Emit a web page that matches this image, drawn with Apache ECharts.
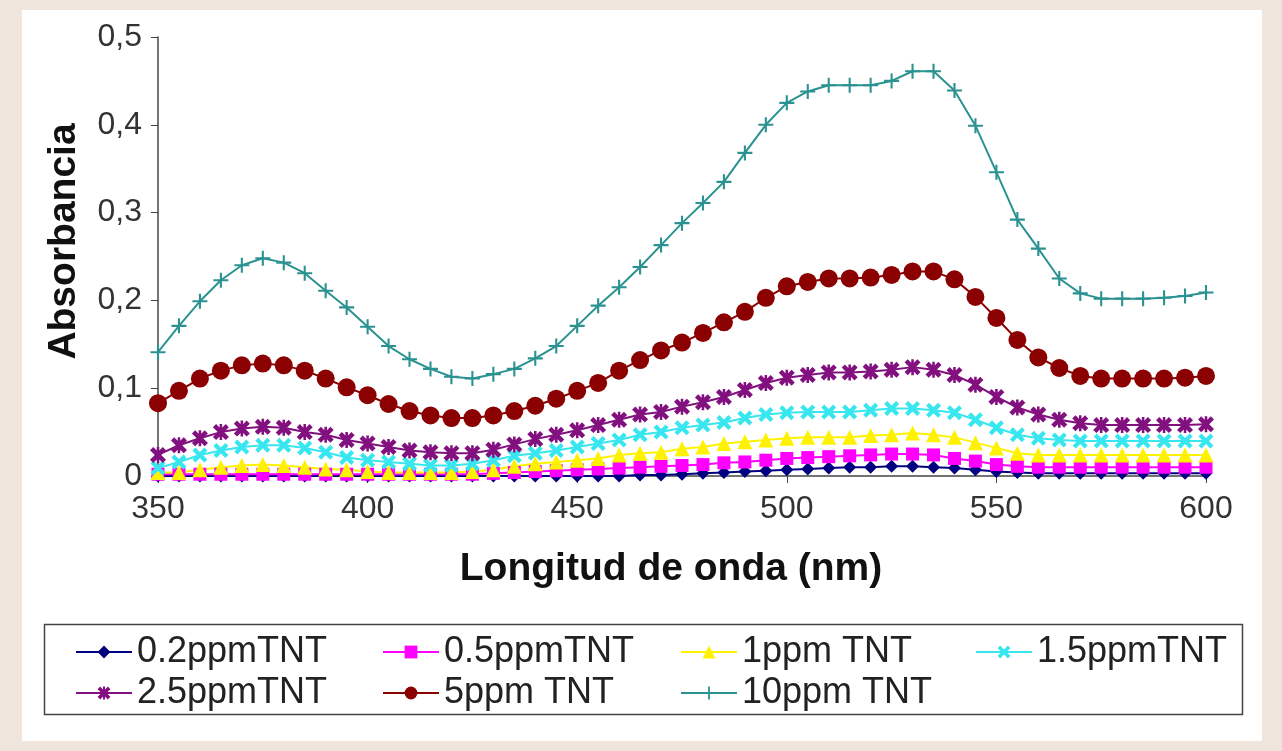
<!DOCTYPE html>
<html>
<head>
<meta charset="utf-8">
<script src="https://cdn.jsdelivr.net/npm/echarts@6/dist/echarts.min.js"></script>
<style>
  html, body { margin: 0; padding: 0; background: #efe5dd; }
  #chart { position: absolute; left: 22px; top: 10px; width: 1240px; height: 731px; background: #ffffff; }
</style>
</head>
<body>
<div id="chart"></div>
<script>
// longitud de onda (nm)
var wavelengths = [350, 355, 360, 365, 370, 375, 380, 385, 390, 395, 400,
  405, 410, 415, 420, 425, 430, 435, 440, 445, 450,
  455, 460, 465, 470, 475, 480, 485, 490, 495, 500,
  505, 510, 515, 520, 525, 530, 535, 540, 545, 550,
  555, 560, 565, 570, 575, 580, 585, 590, 595, 600];

var ppm02 = [0, 0, 0, 0, 0, 0, 0, 0, 0, 0, 0,
  0, 0, 0, 0, 0, 0, 0, 0, 0, 0,
  0, 0, 0.001, 0.001, 0.002, 0.003, 0.004, 0.005, 0.006, 0.007,
  0.008, 0.009, 0.010, 0.010, 0.011, 0.011, 0.010, 0.009, 0.007, 0.005,
  0.004, 0.003, 0.003, 0.003, 0.003, 0.003, 0.003, 0.003, 0.003, 0.003];

var ppm05 = [0.002, 0.002, 0.002, 0.002, 0.002, 0.002, 0.002, 0.002, 0.002, 0.002, 0.002,
  0.002, 0.002, 0.002, 0.002, 0.002, 0.003, 0.004, 0.005, 0.006, 0.007,
  0.008, 0.009, 0.010, 0.011, 0.012, 0.013, 0.015, 0.016, 0.018, 0.020,
  0.021, 0.022, 0.023, 0.024, 0.025, 0.025, 0.024, 0.020, 0.017, 0.013,
  0.011, 0.010, 0.010, 0.010, 0.010, 0.010, 0.010, 0.010, 0.010, 0.010];

var ppm1 = [0.004, 0.004, 0.007, 0.010, 0.012, 0.013, 0.012, 0.010, 0.008, 0.007, 0.005,
  0.004, 0.004, 0.004, 0.004, 0.005, 0.007, 0.011, 0.014, 0.016, 0.018,
  0.020, 0.024, 0.026, 0.027, 0.031, 0.033, 0.037, 0.039, 0.041, 0.043,
  0.044, 0.044, 0.044, 0.046, 0.047, 0.049, 0.047, 0.044, 0.038, 0.032,
  0.026, 0.024, 0.024, 0.024, 0.024, 0.024, 0.024, 0.024, 0.024, 0.024];

var ppm15 = [0.009, 0.016, 0.024, 0.029, 0.033, 0.035, 0.035, 0.032, 0.027, 0.021, 0.018,
  0.016, 0.014, 0.012, 0.012, 0.014, 0.018, 0.023, 0.026, 0.029, 0.033,
  0.037, 0.041, 0.047, 0.050, 0.055, 0.058, 0.061, 0.066, 0.070, 0.072,
  0.073, 0.073, 0.073, 0.075, 0.077, 0.077, 0.075, 0.072, 0.064, 0.055,
  0.047, 0.043, 0.041, 0.040, 0.040, 0.040, 0.040, 0.040, 0.040, 0.040];

var ppm25 = [0.024, 0.035, 0.043, 0.050, 0.054, 0.056, 0.055, 0.050, 0.047, 0.041, 0.037,
  0.033, 0.029, 0.027, 0.026, 0.026, 0.030, 0.036, 0.042, 0.047, 0.052,
  0.058, 0.064, 0.070, 0.073, 0.079, 0.084, 0.090, 0.098, 0.106, 0.112,
  0.115, 0.118, 0.118, 0.119, 0.121, 0.124, 0.121, 0.115, 0.104, 0.090,
  0.078, 0.070, 0.064, 0.060, 0.058, 0.058, 0.058, 0.058, 0.058, 0.059];

var ppm5 = [0.083, 0.097, 0.111, 0.120, 0.126, 0.128, 0.126, 0.120, 0.111, 0.101, 0.092,
  0.082, 0.074, 0.069, 0.066, 0.066, 0.069, 0.074, 0.080, 0.088, 0.097,
  0.106, 0.120, 0.132, 0.143, 0.152, 0.163, 0.175, 0.187, 0.203, 0.216,
  0.221, 0.225, 0.225, 0.226, 0.229, 0.233, 0.233, 0.224, 0.204, 0.180,
  0.155, 0.135, 0.123, 0.114, 0.111, 0.111, 0.111, 0.111, 0.112, 0.114];

var ppm10 = [0.141, 0.171, 0.199, 0.223, 0.240, 0.248, 0.243, 0.231, 0.211, 0.192, 0.170,
  0.148, 0.133, 0.122, 0.113, 0.111, 0.116, 0.122, 0.134, 0.148, 0.171,
  0.194, 0.215, 0.238, 0.263, 0.288, 0.311, 0.335, 0.368, 0.400, 0.425,
  0.438, 0.445, 0.445, 0.445, 0.450, 0.461, 0.461, 0.439, 0.399, 0.346,
  0.292, 0.259, 0.225, 0.208, 0.202, 0.202, 0.202, 0.203, 0.205, 0.209];

var seriesNames = ['0.2ppmTNT', '0.5ppmTNT', '1ppm TNT', '1.5ppmTNT', '2.5ppmTNT', '5ppm TNT', '10ppm TNT'];
var yTicks = [0, 0.1, 0.2, 0.3, 0.4, 0.5];

// marcadores tipo Excel
var xMark = 'path://M2,0 L5,3 L8,0 L10,2 L7,5 L10,8 L8,10 L5,7 L2,10 L0,8 L3,5 L0,2 Z';
var starMark = 'path://M2,0 L5,3 L8,0 L10,2 L7,5 L10,8 L8,10 L5,7 L2,10 L0,8 L3,5 L0,2 Z M4.2,0 L5.8,0 L5.8,10 L4.2,10 Z';
var plusMark = 'path://M4.3,0 L5.7,0 L5.7,4.3 L10,4.3 L10,5.7 L5.7,5.7 L5.7,10 L4.3,10 L4.3,5.7 L0,5.7 L0,4.3 L4.3,4.3 Z';

function pairs(vals) {
    return wavelengths.map(function (w, i) { return [w, vals[i]]; });
}

function mkSeries(name, vals, color, symbol, size) {
    return {
        name: name,
        type: 'line',
        data: pairs(vals),
        symbol: symbol,
        symbolSize: size,
        showAllSymbol: true,
        clip: false,
        lineStyle: { width: 2, color: color },
        itemStyle: { color: color },
        emphasis: { disabled: true },
        animation: false
    };
}

var fontFam = '"Liberation Sans", Arial, sans-serif';
var legendText = { fontSize: 36, color: '#222', fontFamily: fontFam, lineHeight: 36 };

function mkLegend(names, left) {
    return {
        data: names,
        orient: 'vertical',
        left: left,
        top: 624,
        itemWidth: 56,
        itemHeight: 16,
        itemGap: 5,
        padding: 0,
        textStyle: legendText
    };
}

var option = {
    animation: false,
    textStyle: { fontFamily: fontFam },
    grid: { left: 136, right: 56, top: 27, bottom: 265 },
    xAxis: {
        type: 'value',
        min: 350,
        max: 600,
        interval: 50,
        name: 'Longitud de onda (nm)',
        nameLocation: 'middle',
        nameGap: 74,
        nameTextStyle: { fontSize: 39, fontWeight: 'bold', color: '#111', fontFamily: fontFam, padding: [0, 22, 0, 0] },
        axisLine: { lineStyle: { color: '#444', width: 1.5 } },
        axisTick: { show: true, length: 7, lineStyle: { color: '#444' } },
        axisLabel: { fontSize: 32, color: '#333', margin: 17, fontFamily: fontFam },
        splitLine: { show: false }
    },
    yAxis: {
        type: 'value',
        min: yTicks[0],
        max: yTicks[yTicks.length - 1],
        interval: 0.1,
        name: 'Absorbancia',
        nameLocation: 'middle',
        nameGap: 74,
        nameTextStyle: { fontSize: 39, fontWeight: 'bold', color: '#111', fontFamily: fontFam, padding: [0, 0, 0, 30] },
        axisLine: { show: true, lineStyle: { color: '#444', width: 1.5 } },
        axisTick: { show: true, length: 7, lineStyle: { color: '#444' } },
        axisLabel: {
            fontSize: 32, color: '#333', margin: 16, fontFamily: fontFam,
            formatter: function (v) { return v === 0 ? '0' : v.toFixed(1).replace('.', ','); }
        },
        splitLine: { show: false }
    },
    legend: [
        mkLegend([seriesNames[0], seriesNames[4]], 53),
        mkLegend([seriesNames[1], seriesNames[5]], 360),
        mkLegend([seriesNames[2], seriesNames[6]], 658),
        mkLegend([seriesNames[3]], 953)
    ],
    graphic: [{
        type: 'rect',
        left: 20,
        top: 612,
        shape: { width: 1198, height: 90 },
        style: { fill: 'none', stroke: '#444', lineWidth: 1.5 },
        silent: true
    }],
    series: [
        mkSeries(seriesNames[0], ppm02, '#000080', 'diamond', 13),
        mkSeries(seriesNames[1], ppm05, '#ff00ff', 'rect', 13),
        mkSeries(seriesNames[2], ppm1, '#fff200', 'triangle', 15),
        mkSeries(seriesNames[3], ppm15, '#38e6f0', xMark, 15),
        mkSeries(seriesNames[4], ppm25, '#82117f', starMark, 16),
        mkSeries(seriesNames[5], ppm5, '#8b0000', 'circle', 18),
        mkSeries(seriesNames[6], ppm10, '#2a9290', plusMark, 15)
    ]
};

var chart = echarts.init(document.getElementById('chart'));
chart.setOption(option);
</script>
</body>
</html>
